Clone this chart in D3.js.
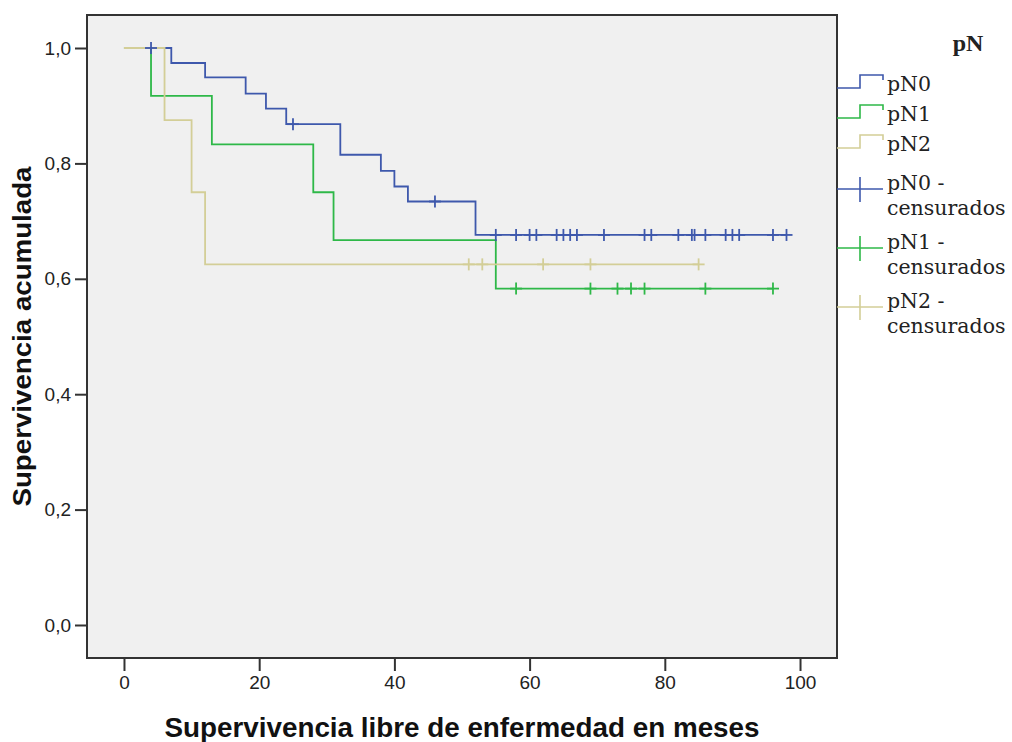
<!DOCTYPE html>
<html>
<head>
<meta charset="utf-8">
<script src="https://cdn.jsdelivr.net/npm/d3@7"></script>
<style>
  body { margin: 0; background: #fff; }
  .tick text { font-family: "Liberation Sans", Arial, sans-serif; font-size: 19px; fill: #222; }
  .tick line { stroke: #333; stroke-width: 2; }
</style>
</head>
<body>
<div id="chart"></div>
<script>
// groups and colours (SPSS defaults)
const groups = ["pN0", "pN1", "pN2"];
const colors = ["#3e58ac", "#2eb848", "#d3ce97"];

// event times (months) and survival right after each event
const events0 = [7, 12, 18, 21, 24, 32, 38, 40, 42, 52];
const surv0   = [0.974, 0.949, 0.921, 0.895, 0.868, 0.815, 0.787, 0.760, 0.734, 0.676];
const censor0 = [4, 25, 46, 55, 58, 60, 61, 64, 65, 66, 67, 71, 77, 78, 82, 84, 84.4, 86, 89, 90, 91, 96, 98];

const events1 = [4, 13, 28, 31, 55];
const surv1   = [0.917, 0.833, 0.750, 0.667, 0.583];
const censor1 = [58, 69, 73, 75, 77, 86, 96];

const events2 = [6, 10, 12];
const surv2   = [0.875, 0.750, 0.625];
const censor2 = [51, 53, 62, 69, 85];

const xTicks = [0, 20, 40, 60, 80, 100];
const yTicks = [0, 0.2, 0.4, 0.6, 0.8, 1.0];

const series = [
    { name: groups[0], events: events0, surv: surv0, censor: censor0, color: colors[0] },
    { name: groups[1], events: events1, surv: surv1, censor: censor1, color: colors[1] },
    { name: groups[2], events: events2, surv: surv2, censor: censor2, color: colors[2] }
];

const margin = { top: 15, left: 87 };
const width = 750, height = 643;

const svg = d3.select("#chart").append("svg")
    .attr("width", 1012)
    .attr("height", 742);

const g = svg.append("g")
    .attr("transform", `translate(${margin.left},${margin.top})`);

const x = d3.scaleLinear().domain([-5.47, 105.47]).range([0, width]);
const y = d3.scaleLinear().domain([-0.0572, 1.0572]).range([height, 0]);

// plot background
g.append("rect")
    .attr("width", width)
    .attr("height", height)
    .attr("fill", "#f0f0f0");

// survival at time t (step function)
function survAt(s, t) {
    let v = 1;
    s.events.forEach((e, i) => { if (e <= t) v = s.surv[i]; });
    return v;
}

const line = d3.line()
    .x(d => x(d[0]))
    .y(d => y(d[1]))
    .curve(d3.curveStepAfter);

series.forEach(s => {
    const end = Math.max(d3.max(s.events), d3.max(s.censor));
    const pts = [[0, 1]].concat(s.events.map((e, i) => [e, s.surv[i]]));
    pts.push([end, s.surv[s.surv.length - 1]]);
    g.append("path")
        .datum(pts)
        .attr("fill", "none")
        .attr("stroke", s.color)
        .attr("stroke-width", 1.8)
        .attr("d", line);
});

// censor marks
series.forEach(s => {
    const marks = g.append("g");
    s.censor.forEach(c => {
        const cy = y(survAt(s, c));
        marks.append("line")
            .attr("x1", x(c)).attr("x2", x(c))
            .attr("y1", cy - 6).attr("y2", cy + 6)
            .attr("stroke", s.color).attr("stroke-width", 1.8);
        marks.append("line")
            .attr("x1", x(c) - 6).attr("x2", x(c) + 6)
            .attr("y1", cy).attr("y2", cy)
            .attr("stroke", s.color).attr("stroke-width", 1.8);
    });
});

// frame
g.append("rect")
    .attr("width", width)
    .attr("height", height)
    .attr("fill", "none")
    .attr("stroke", "#333")
    .attr("stroke-width", 2);

// axes
const yAxis = g.append("g")
    .call(d3.axisLeft(y).tickValues(yTicks)
        .tickFormat(d => d3.format(".1f")(d).replace(".", ","))
        .tickSize(12).tickPadding(4));
yAxis.select(".domain").remove();

const xAxis = g.append("g")
    .attr("transform", `translate(0,${height})`)
    .call(d3.axisBottom(x).tickValues(xTicks).tickSize(13).tickPadding(5));
xAxis.select(".domain").remove();

// axis titles
svg.append("text")
    .attr("x", margin.left + width / 2)
    .attr("y", 737)
    .attr("text-anchor", "middle")
    .attr("textLength", 595)
    .attr("lengthAdjust", "spacingAndGlyphs")
    .style("font-family", "Liberation Sans, Arial, sans-serif")
    .style("font-weight", "bold")
    .style("font-size", "27px")
    .attr("fill", "#111")
    .text("Supervivencia libre de enfermedad en meses");

svg.append("text")
    .attr("transform", `translate(31,${margin.top + height / 2 + 0}) rotate(-90)`)
    .attr("text-anchor", "middle")
    .attr("textLength", 340)
    .attr("lengthAdjust", "spacingAndGlyphs")
    .style("font-family", "Liberation Sans, Arial, sans-serif")
    .style("font-weight", "bold")
    .style("font-size", "25px")
    .attr("fill", "#111")
    .text("Supervivencia acumulada");

// legend
const lx = 837, lmid = 860, lend = 883, tx = 887;
svg.append("text")
    .attr("x", 968).attr("y", 51)
    .attr("text-anchor", "middle")
    .style("font-family", "Liberation Serif, serif")
    .style("font-weight", "bold")
    .style("font-size", "24px")
    .attr("fill", "#222")
    .text("pN");

series.forEach((s, i) => {
    const base = 88 + i * 30;
    svg.append("path")
        .attr("d", `M${lx},${base}H${lmid}V${base - 13}H${lend}V${base - 8}`)
        .attr("fill", "none")
        .attr("stroke", s.color)
        .attr("stroke-width", 1.6);
    svg.append("text")
        .attr("x", tx).attr("y", base + 3)
        .style("font-family", "DejaVu Serif, serif")
        .style("font-size", "20.5px")
        .attr("fill", "#222")
        .text(s.name);
});

series.forEach((s, i) => {
    const cy = 189 + i * 59;
    svg.append("line")
        .attr("x1", lx).attr("x2", lend)
        .attr("y1", cy).attr("y2", cy)
        .attr("stroke", s.color).attr("stroke-width", 1.6);
    svg.append("line")
        .attr("x1", lmid).attr("x2", lmid)
        .attr("y1", cy - 12).attr("y2", cy + 13)
        .attr("stroke", s.color).attr("stroke-width", 1.6);
    const t = svg.append("text")
        .attr("x", tx).attr("y", cy + 1)
        .style("font-family", "DejaVu Serif, serif")
        .style("font-size", "20.5px")
        .attr("fill", "#222");
    t.append("tspan").attr("x", tx).text(s.name + " -");
    t.append("tspan").attr("x", tx).attr("dy", 25).text("censurados");
});
</script>
</body>
</html>
